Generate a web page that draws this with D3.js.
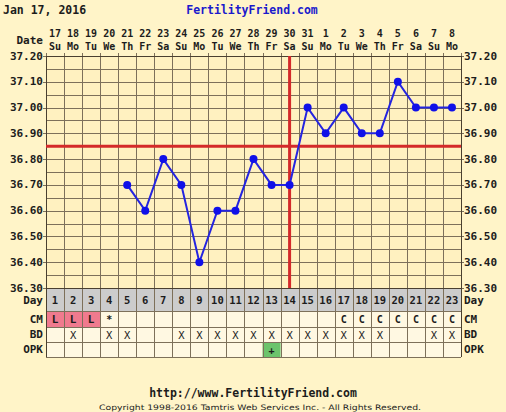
<!DOCTYPE html>
<html><head><meta charset="utf-8">
<script src="https://cdn.jsdelivr.net/npm/d3@7"></script>
<style>body{margin:0;background:#fff4c8;}svg{display:block;}</style>
</head><body>
<script>
const dates = ["17","18","19","20","21","22","23","24","25","26","27","28","29","30","31","1","2","3","4","5","6","7","8"];
const weekdays = ["Su","Mo","Tu","We","Th","Fr","Sa","Su","Mo","Tu","We","Th","Fr","Sa","Su","Mo","Tu","We","Th","Fr","Sa","Su","Mo"];
const cycleDays = d3.range(1, 24);
const temps = [null,null,null,null,36.70,36.60,36.80,36.70,36.40,36.60,36.60,36.80,36.70,36.70,37.00,36.90,37.00,36.90,36.90,37.10,37.00,37.00,37.00];
const cm = ["L","L","L","*","","","","","","","","","","","","","C","C","C","C","C","C","C"];
const bd = ["","X","","X","X","","","X","X","X","X","X","X","X","X","X","X","X","X","","","X","X"];
const opk = ["","","","","","","","","","","","","+","","","","","","","","","",""];
const yTicks = [37.20,37.10,37.00,36.90,36.80,36.70,36.60,36.50,36.40,36.30];
const coverline = 36.85;
const ovulationDay = 14;

const W = 506, H = 412;
const L = 46, R = 461, T = 56, B = 288;
const svg = d3.select("body").append("svg").attr("width", W).attr("height", H);
svg.append("rect").attr("width", W).attr("height", H).attr("fill", "#fff4c8");

const x = d3.scaleBand().domain(cycleDays).range([L, R]).padding(0);
const y = d3.scaleLinear().domain([36.30, 37.20]).range([B, T]);
const font = "'DejaVu Sans Mono', monospace";
const grid = "#7d705a";

svg.append("rect").attr("x", L).attr("y", T).attr("width", R - L).attr("height", B - T).attr("fill", "#fff1c0");

const rows = [
  {name: "Day", y0: 288, y1: 311, fill: "#cccccc"},
  {name: "CM", y0: 311, y1: 327, fill: "#fff8e2"},
  {name: "BD", y0: 327, y1: 342, fill: "#fff8e2"},
  {name: "OPK", y0: 342, y1: 357, fill: "#fff8e2"}
];
rows.forEach(r => {
  svg.append("rect").attr("x", L).attr("y", r.y0).attr("width", R - L).attr("height", r.y1 - r.y0).attr("fill", r.fill);
});
cycleDays.forEach((d, i) => {
  if (cm[i] === "L") svg.append("rect").attr("x", x(d)).attr("y", 311).attr("width", x.bandwidth()).attr("height", 16).attr("fill", "#f07a8e");
  if (opk[i] === "+") svg.append("rect").attr("x", x(d)).attr("y", 342).attr("width", x.bandwidth()).attr("height", 15).attr("fill", "#6cc46c");
});

const hLines = d3.range(0, 19).map(k => +(36.30 + k * 0.05).toFixed(2));
svg.selectAll(".hg").data(hLines).enter().append("line")
  .attr("x1", L).attr("x2", R).attr("y1", d => Math.round(y(d)) + 0.5).attr("y2", d => Math.round(y(d)) + 0.5)
  .attr("stroke", grid).attr("stroke-width", 1);
svg.selectAll(".lt").data(yTicks).enter().append("line")
  .attr("x1", L - 3).attr("x2", L).attr("y1", d => Math.round(y(d)) + 0.5).attr("y2", d => Math.round(y(d)) + 0.5)
  .attr("stroke", grid);
svg.selectAll(".rt").data(yTicks).enter().append("line")
  .attr("x1", R).attr("x2", R + 3).attr("y1", d => Math.round(y(d)) + 0.5).attr("y2", d => Math.round(y(d)) + 0.5)
  .attr("stroke", grid);
[311, 327, 342, 357].forEach(yy => {
  svg.append("line").attr("x1", L).attr("x2", R).attr("y1", yy + 0.5).attr("y2", yy + 0.5).attr("stroke", grid);
});
const vEdges = cycleDays.map(d => x(d)).concat([R]);
svg.selectAll(".vg").data(vEdges).enter().append("line")
  .attr("x1", d => Math.round(d) + 0.5).attr("x2", d => Math.round(d) + 0.5)
  .attr("y1", T - 3).attr("y2", 357)
  .attr("stroke", grid).attr("stroke-width", 1);
svg.append("line").attr("x1", L + 0.5).attr("x2", L + 0.5).attr("y1", T).attr("y2", 357).attr("stroke", "#4a4030");
svg.append("line").attr("x1", R + 0.5).attr("x2", R + 0.5).attr("y1", T).attr("y2", 357).attr("stroke", "#4a4030");
svg.append("line").attr("x1", L).attr("x2", R).attr("y1", T + 0.5).attr("y2", T + 0.5).attr("stroke", "#4a4030");
svg.append("line").attr("x1", L).attr("x2", R).attr("y1", B + 0.5).attr("y2", B + 0.5).attr("stroke", "#4a4030");

svg.append("line").attr("x1", L).attr("x2", R).attr("y1", y(coverline)).attr("y2", y(coverline))
  .attr("stroke", "#d42a2a").attr("stroke-width", 3);
const ox = x(ovulationDay) + x.bandwidth() / 2;
svg.append("line").attr("x1", ox).attr("x2", ox).attr("y1", T).attr("y2", B)
  .attr("stroke", "#d42a2a").attr("stroke-width", 3);

const pts = cycleDays.map((d, i) => ({d, t: temps[i]})).filter(p => p.t != null);
const line = d3.line().x(p => x(p.d) + x.bandwidth() / 2).y(p => y(p.t));
svg.append("path").datum(pts).attr("d", line).attr("fill", "none").attr("stroke", "#2424e0").attr("stroke-width", 2);
svg.selectAll(".pt").data(pts).enter().append("circle")
  .attr("cx", p => x(p.d) + x.bandwidth() / 2).attr("cy", p => y(p.t)).attr("r", 4)
  .attr("fill", "#1010e8");

const txt = (xx, yy, s, anchor, opts = {}) => svg.append("text").attr("x", xx).attr("y", yy).text(s)
  .attr("text-anchor", anchor).attr("font-family", opts.family || font).attr("font-weight", opts.weight || "bold")
  .attr("font-size", opts.size || 11).attr("fill", opts.fill || "#1c1c1c").attr("dominant-baseline", "central");
yTicks.forEach(v => {
  txt(43, y(v), v.toFixed(2), "end");
  txt(464, y(v), v.toFixed(2), "start");
});

txt(3, 10, "Jan 17, 2016", "start", {size: 11.5});
txt(252, 10, "FertilityFriend.com", "middle", {fill: "#1a1acc", size: 11.5});
txt(43, 40, "Date", "end");
cycleDays.forEach((d, i) => {
  const cx = x(d) + x.bandwidth() / 2;
  txt(cx, 33, dates[i], "middle", {size: 10});
  txt(cx, 46, weekdays[i], "middle", {size: 10});
  txt(cx, 300, String(d), "middle", {size: 10.5});
  if (cm[i]) txt(cx, 319, cm[i], "middle", {size: cm[i] === "L" ? 11 : 10});
  if (bd[i]) txt(cx, 335, bd[i], "middle", {weight: "normal", size: 10.5});
  if (opk[i]) txt(cx, 350, opk[i], "middle", {size: 10});
});
rows.forEach(r => {
  const cy = (r.y0 + r.y1) / 2 + (r.name === "Day" ? 1 : 0);
  txt(43, cy, r.name, "end");
  txt(464, cy, r.name, "start");
});

txt(253, 393, "http://www.FertilityFriend.com", "middle", {size: 11.5});
svg.append("text").attr("x", 260).attr("y", 407).text("Copyright 1998-2016 Tamtris Web Services Inc. - All Rights Reserved.")
  .attr("text-anchor", "middle").attr("font-family", "'DejaVu Sans', sans-serif").attr("font-size", 7.5)
  .attr("fill", "#1c1c1c").attr("dominant-baseline", "central").attr("textLength", 322).attr("lengthAdjust", "spacingAndGlyphs");
</script>
</body></html>
